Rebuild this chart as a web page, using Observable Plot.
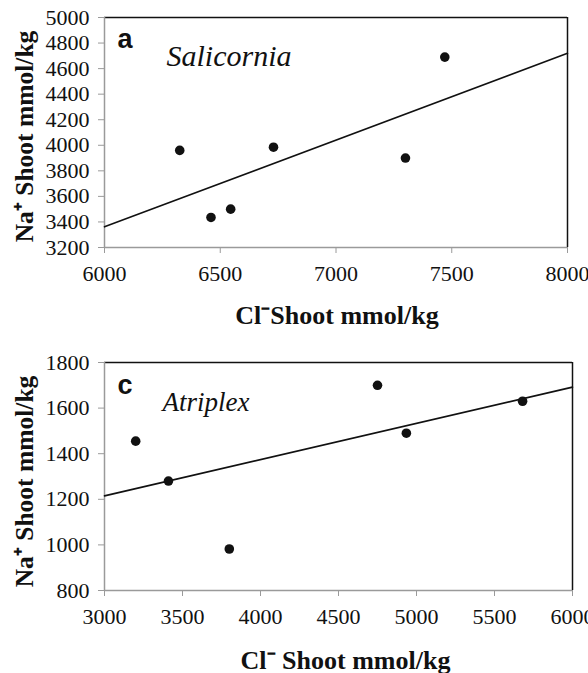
<!DOCTYPE html>
<html>
<head>
<meta charset="utf-8">
<script src="https://cdn.jsdelivr.net/npm/d3@7"></script>
<script src="https://cdn.jsdelivr.net/npm/@observablehq/plot@0.6"></script>
<style>
  html, body { margin: 0; padding: 0; background: #fff; }
  #wrap { position: relative; width: 588px; height: 673px; overflow: hidden; }
  #top, #bottom { position: absolute; left: 0; }
  #top { top: 0; }
  #bottom { top: 335px; }
</style>
</head>
<body>
<div id="wrap"><div id="top"></div><div id="bottom"></div></div>
<script>
// Panel a: Salicornia
const salCl = [6325, 6460, 6545, 6730, 7300, 7470];
const salNa = [3960, 3435, 3500, 3985, 3900, 4690];
const salFitCl = [6000, 8000];
const salFitNa = [3362, 4720];
const salXTicks = [6000, 6500, 7000, 7500, 8000];
const salYTicks = [3200, 3400, 3600, 3800, 4000, 4200, 4400, 4600, 4800, 5000];

// Panel c: Atriplex
const atrCl = [3200, 3410, 3800, 4750, 4935, 5680];
const atrNa = [1455, 1280, 982, 1700, 1490, 1630];
const atrFitCl = [3000, 6000];
const atrFitNa = [1215, 1692];
const atrXTicks = [3000, 3500, 4000, 4500, 5000, 5500, 6000];
const atrYTicks = [800, 1000, 1200, 1400, 1600, 1800];

const yTitle = "Na\u207A Shoot mmol/kg";
const serif = "Liberation Serif";
const sans = "Liberation Sans";
const axisGray = "#9a9a9a";

function panel({cl, na, fitCl, fitNa, xTicks, yTicks, height, margins, letter, species, speciesSize, xTitle,
                letterPos, speciesPos, xTitleDx, xTitleDy, yTitleDx, yTitleDy}) {
  const xd = [xTicks[0], xTicks[xTicks.length - 1]];
  const yd = [yTicks[0], yTicks[yTicks.length - 1]];
  const pts = cl.map((c, i) => ({c, n: na[i]}));
  const fit = fitCl.map((c, i) => ({c, n: fitNa[i]}));
  const svg = Plot.plot({
    width: 588,
    height,
    ...margins,
    style: {fontFamily: serif, fontSize: "21px", color: "#111", background: "#fff"},
    x: {domain: xd, ticks: xTicks, tickSize: 6, tickFormat: () => "", label: null},
    y: {domain: yd, ticks: yTicks, tickSize: 6, tickFormat: () => "", label: null},
    marks: [
      Plot.ruleY([yd[1]], {stroke: "#111", strokeWidth: 1.5}),
      Plot.ruleX([xd[1]], {stroke: "#111", strokeWidth: 1.5}),
      Plot.ruleY([yd[0]], {stroke: axisGray, strokeWidth: 1.5}),
      Plot.ruleX([xd[0]], {stroke: axisGray, strokeWidth: 1.5}),
      // tick labels
      Plot.text(yTicks, {frameAnchor: "left", y: d => d, text: d => String(d), dx: -15,
        textAnchor: "end", lineAnchor: "middle", fontFamily: serif, fontSize: 22, fill: "#111", className: "custom"}),
      Plot.text(xTicks, {frameAnchor: "bottom", x: d => d, text: d => String(d), dy: 18,
        textAnchor: "middle", lineAnchor: "top", fontFamily: serif, fontSize: 22, fill: "#111", className: "custom"}),
      Plot.line(fit, {x: "c", y: "n", stroke: "#111", strokeWidth: 1.6}),
      Plot.dot(pts, {x: "c", y: "n", r: 4.8, fill: "#111", stroke: "none"}),
      Plot.text([letter], {frameAnchor: "top-left", dx: letterPos[0], dy: letterPos[1], text: d => d,
        fontFamily: sans, fontWeight: "bold", fontSize: 27, textAnchor: "start", lineAnchor: "bottom", fill: "#111", className: "custom"}),
      Plot.text([species], {frameAnchor: "top-left", dx: speciesPos[0], dy: speciesPos[1], text: d => d,
        fontFamily: serif, fontStyle: "italic", fontSize: speciesSize, textAnchor: "start", lineAnchor: "bottom", fill: "#111", className: "custom"}),
      Plot.text([xTitle], {frameAnchor: "bottom", dx: xTitleDx, dy: xTitleDy, text: d => d,
        fontFamily: serif, fontWeight: "bold", fontSize: 26, textAnchor: "middle", lineAnchor: "bottom", fill: "#111", className: "custom"}),
      Plot.text([yTitle], {frameAnchor: "left", dx: yTitleDx, dy: yTitleDy, text: d => d, rotate: -90,
        fontFamily: serif, fontWeight: "bold", fontSize: 25.5, textAnchor: "middle", lineAnchor: "middle", fill: "#111", className: "custom"})
    ]
  });
  // axis tick lines: gray
  svg.querySelectorAll("line, path").forEach(l => {
    if (l.closest('[aria-label*="axis"]')) l.style.stroke = axisGray;
  });
  return svg;
}

document.getElementById("top").append(panel({
  cl: salCl, na: salNa, fitCl: salFitCl, fitNa: salFitNa, xTicks: salXTicks, yTicks: salYTicks,
  height: 335,
  margins: {marginLeft: 104, marginRight: 21, marginTop: 17, marginBottom: 88},
  letter: "a", species: "Salicornia", speciesSize: 30, xTitle: "Cl\u207BShoot mmol/kg",
  letterPos: [13, 30], speciesPos: [62, 48],
  xTitleDx: 1, xTitleDy: 76, yTitleDx: -80, yTitleDy: 4
}));

document.getElementById("bottom").append(panel({
  cl: atrCl, na: atrNa, fitCl: atrFitCl, fitNa: atrFitNa, xTicks: atrXTicks, yTicks: atrYTicks,
  height: 338,
  margins: {marginLeft: 104, marginRight: 16, marginTop: 27, marginBottom: 83},
  letter: "c", species: "Atriplex", speciesSize: 27, xTitle: "Cl\u207B Shoot mmol/kg",
  letterPos: [13, 31], speciesPos: [58, 48],
  xTitleDx: 7, xTitleDy: 78, yTitleDx: -80, yTitleDy: 5
}));
</script>
</body>
</html>
